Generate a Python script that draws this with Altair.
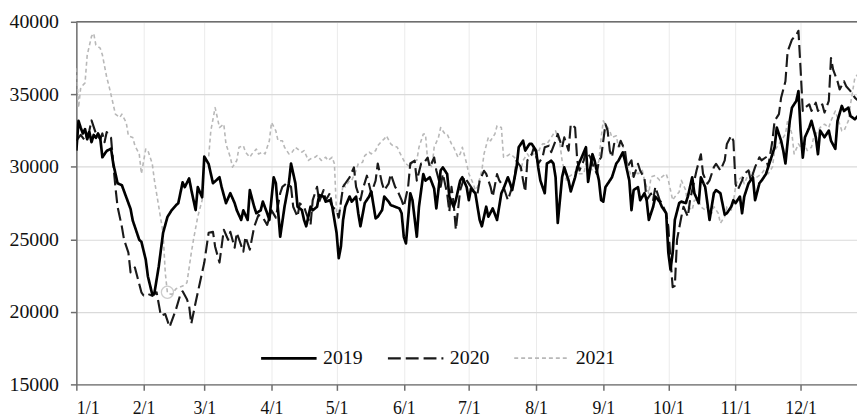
import altair as alt
import pandas as pd

years = ["2019", "2020", "2021"]
y_ticks = [15000, 20000, 25000, 30000, 35000, 40000]

d2019 = [0,1,2,3,4,5,6,7,8,9,10,11,12,14,16,17,19,21,23,25,26,27,29,30,32,33,35,36,38,40,42,44,46,47,49,50,52,53,55,56,58,59,61,63,64,66,67,69,71,73,74,76,77,79,80,82,83,85,86,88,89,91,92,94,96,98,99,101,102,104,105,106,108,109,111,112,114,115,117,118,120,121,122,123,124,126,127,129,130,131,133,135,136,138,139,141,142,144,145,147,149,150,151,152,154,155,157,158,160,161,163,165,166,168,169,171,172,174,175,177,178,180,181,182,184,185,186,187,189,190,192,194,196,197,199,200,201,203,204,206,207,209,210,212,213,214,216,217,219,220,221,222,224,225,227,228,230,231,233,235,236,238,239,241,242,243,244,246,247,249,250,252,253,255,256,257,259,260,262,263,264,266,267,269,270,272,273,274,275,276,278,279,281,282,284,285,287,288,290,291,292,294,295,297,299,300,302,303,304,306,307,308,310,312,313,315,316,318,319,320,322,323,325,326,327,329,330,332,333,334,335,336,338,339,341,342,343,345,347,348,350,351,353,354,356,357,359,361,363,364]
v2019 = [31120,33170,32700,32300,32600,31900,32400,31700,32200,32000,32300,32000,30660,31100,31260,30230,28870,28730,27910,27100,26300,25860,24970,24830,23600,22440,21210,21300,23130,25450,26540,27020,27360,27490,28930,28600,29200,28420,27020,28600,27900,30700,30200,28870,29000,29280,28600,27500,28180,27500,27000,26340,27000,26340,28390,27250,26800,27000,27600,26800,26340,29280,28870,25180,27250,28870,30230,28870,27250,27020,26340,25900,27250,27000,27250,28050,27950,27600,27700,27250,25450,23700,24500,26340,27250,27950,27600,27950,26800,25900,27500,27950,28300,26450,26560,27020,27950,27600,27360,27250,27130,26800,25180,24720,28180,27700,25180,27250,29500,29050,29280,28500,27130,29750,29960,29500,27950,27250,27700,29050,29280,28600,27700,28500,28180,27250,26340,25900,27250,26560,27130,26340,28180,28500,29280,28870,28400,29960,31350,31800,31120,31580,31580,31120,29960,29050,28180,30230,30420,30230,29280,26130,29280,29960,29050,28300,29280,29960,30640,31350,28960,30870,30420,29050,27700,27600,28600,29050,29280,30230,30420,31000,30420,29050,27020,28400,28600,27700,28180,27700,26340,27250,27950,27600,27250,26800,24080,22920,24080,26340,27500,27600,27500,27950,29280,28180,27500,29280,28600,27500,26340,28180,28400,28180,26700,26800,27250,27700,27500,27950,26800,27950,28870,29280,27700,28870,29050,29500,29960,30420,31350,32710,31800,31120,30230,33170,34080,34540,35220,32500,30640,32040,32710,33170,32040,30870,32500,32040,32500,31800,31240,33170,34200,33850,34080,33500,33280,33600,33300,33100]

d2020 = [0,2,4,6,7,9,11,12,13,14,15,16,17,18,19,21,22,24,25,27,28,30,31,33,35,36,37,39,41,43,46,48,49,51,52,53,55,57,59,61,63,64,66,68,70,71,73,74,77,78,80,82,84,86,88,90,92,94,95,97,99,100,102,103,105,106,108,109,111,112,114,115,117,118,120,121,123,124,126,128,129,131,132,134,136,138,139,141,142,144,145,147,148,150,151,153,154,156,157,159,160,162,163,165,166,168,169,171,172,173,174,175,177,179,180,182,183,185,186,188,189,191,192,194,195,197,199,200,202,203,205,206,207,208,210,211,213,215,216,218,219,221,222,224,225,227,228,230,231,232,234,235,237,238,240,241,242,244,245,246,247,248,250,251,253,254,256,257,259,260,262,263,265,266,267,269,270,272,273,274,275,276,277,279,280,282,283,285,286,288,289,291,292,294,295,297,299,300,302,303,304,305,307,308,310,311,313,315,316,318,319,321,322,324,325,327,328,330,332,333,334,335,336,338,339,341,342,344,345,347,348,349,351,352,354,355,357,359,361,363,364]
v2020 = [31800,32200,31800,32500,33200,32300,31900,32300,31700,32400,32100,32000,30230,28620,27250,25860,24970,24080,22720,23060,22490,21350,21130,21240,21100,21210,21350,19730,19850,18960,20200,21210,21420,20870,20420,19180,20650,22030,23400,25450,25520,24490,23400,25660,24970,25520,24420,25450,24150,25180,24290,25860,26680,26500,26000,27000,26500,28180,28620,28870,28620,27250,26560,27480,27250,26800,26000,27700,28620,27600,28400,27700,28200,27250,27000,26500,28620,28850,29280,29960,28620,27700,28400,29390,28160,29050,30230,28840,28390,28840,29500,28620,28390,27700,27250,28620,30230,30420,29050,30230,30210,30640,29980,30640,29750,28620,29520,28160,26910,28620,27480,25660,28390,29300,29070,28620,28390,28160,29050,29730,29520,28620,27930,29500,29070,28620,27700,28160,29070,30420,29980,29070,28280,30440,30870,31350,30210,30660,31350,31460,31010,31800,32270,31350,32030,31120,32940,32710,30420,29750,30440,31120,30660,30210,29520,30440,30660,32940,32500,31120,30660,31580,31350,31800,31120,29980,30440,29300,30210,29750,29180,27700,28160,27700,28620,27700,27480,26800,25860,23600,21700,21800,24970,26560,27250,26560,27700,29070,29750,30870,29520,28840,29070,29980,30210,29750,30440,31580,32150,31800,28800,28400,29070,29520,29750,29070,29980,30660,30440,30660,29980,31800,33170,33630,34770,35900,37950,38770,39100,39380,36700,33850,34080,34310,33850,34420,33850,34310,33740,34540,37500,36700,35900,35340,35900,35560,35220,34770,34500,34300,34200]

d2021 = [0,1,2,4,5,7,8,9,11,12,14,15,17,18,20,21,23,24,26,27,29,30,32,33,35,36,38,40,41,42,44,46,49,51,53,54,56,58,59,61,62,64,65,66,68,69,71,72,74,75,77,78,80,81,83,84,86,87,89,90,92,93,95,96,98,99,101,102,104,105,107,108,110,111,113,115,116,118,119,120,121,123,124,126,127,129,130,132,133,135,136,138,139,141,142,143,145,146,148,149,151,152,154,155,157,158,160,161,162,164,165,167,168,170,171,173,174,176,177,178,180,181,183,184,185,187,188,190,191,193,194,196,197,199,200,202,203,205,206,208,209,211,212,214,215,217,218,220,221,223,224,226,227,229,231,232,234,235,237,238,240,241,242,243,244,246,247,249,250,252,253,255,256,258,259,261,262,264,265,267,269,270,272,273,275,276,278,279,281,282,284,285,287,288,290,291,293,294,296,297,299,300,302,303,304,305,307,308,310,311,313,314,316,317,319,321,322,324,325,327,328,330,331,333,334,336,337,339,340,342,343,345,347,348,350,351,353,354,356,357,359,361,363,364]
v2021 = [36800,34080,35450,35790,37700,39000,39200,38400,38180,37720,36170,35600,34310,33630,33400,33630,33060,32140,32030,31460,30890,29520,31230,31120,30210,29070,27250,25430,22700,21300,21200,21600,21780,22010,24060,24970,26570,27700,30500,30660,32480,34080,33400,32710,32940,31570,30660,29980,30440,31350,31460,31010,30660,30890,31230,30890,31010,30890,31800,33060,32480,31800,31800,31350,30890,30890,31350,31230,31010,31120,30440,30550,30660,30780,30440,30660,30440,30660,30210,26800,26340,28840,28620,29070,29070,29750,30210,30320,30780,31010,30890,31120,31460,31800,31920,32140,31580,31460,31350,31010,30440,30210,29980,30440,30440,31350,32260,32260,30440,29980,31350,32030,32710,32260,32260,31580,31350,30660,30890,31350,30210,29520,28840,28390,28620,29750,30890,32030,31800,32260,32830,32710,30660,30780,30890,30660,30440,29750,30440,30890,30660,30890,30660,31350,31580,31580,31800,32260,32480,31580,30440,29070,29300,29520,29750,29520,29520,30210,29980,29750,29980,30440,32000,33170,32940,32480,32030,32140,31350,31580,30440,29750,29300,29640,29520,29750,29070,28160,29300,29410,29070,29300,29520,29070,27700,27930,28270,29070,28390,27250,27020,27700,27700,27250,27020,27250,26800,27250,26800,26110,26570,27250,27020,27590,28620,29070,29300,28840,29520,29750,29300,29300,29520,29750,29520,29980,31120,31580,31800,32260,33170,32260,30890,31580,31350,31580,31120,31350,32030,32480,32710,32940,32710,33170,33850,33400,32480,32480,33170,34310,36130,36500,36600,36400]

mark_day = [42]
mark_val = [21350]

base_date = pd.Timestamp("2019-01-01")


def to_dates(days):
    return [(base_date + pd.Timedelta(days=d)).strftime("%Y-%m-%dT00:00:00") for d in days]


frames = []
for yr, dd, vv in [("2019", d2019, v2019), ("2020", d2020, v2020), ("2021", d2021, v2021)]:
    frames.append(pd.DataFrame({"date": to_dates(dd), "value": vv, "year": yr}))
df = pd.concat(frames, ignore_index=True)

mark_df = pd.DataFrame({"date": to_dates(mark_day), "value": mark_val})

FONT = "Liberation Serif"
W, H = 788, 366

x_scale = alt.Scale(
    domain=[alt.DateTime(year=2019, month=1, date=1), alt.DateTime(year=2019, month=12, date=27)],
    nice=False,
)
y_scale = alt.Scale(domain=[15000, 40000], nice=False)

x_enc = alt.X(
    "date:T",
    scale=x_scale,
    axis=alt.Axis(
        values=[alt.DateTime(year=2019, month=m, date=1) for m in range(1, 13)],
        format="%-m/%-d",
        title=None,
        grid=True,
        gridColor="#ebebeb",
        gridWidth=1,
        domainColor="#6e6e6e",
        domainWidth=1.5,
        tickColor="#6e6e6e",
        tickWidth=1.5,
        tickSize=6,
        labelPadding=9,
        labelFont=FONT,
        labelFontSize=18,
        labelColor="#111",
    ),
)
y_enc = alt.Y(
    "value:Q",
    scale=y_scale,
    axis=alt.Axis(
        values=y_ticks,
        format="d",
        title=None,
        grid=True,
        gridColor="#dadada",
        gridWidth=1.2,
        domainColor="#6e6e6e",
        domainWidth=1.5,
        tickColor="#6e6e6e",
        tickWidth=1.5,
        tickSize=6,
        labelPadding=12,
        labelFont=FONT,
        labelFontSize=20,
        labelColor="#111",
    ),
)

color_enc = alt.Color(
    "year:N",
    scale=alt.Scale(domain=years, range=["#000000", "#1a1a1a", "#b8b8b8"]),
    legend=alt.Legend(
        title=None,
        orient="none",
        legendX=185,
        legendY=310,
        direction="horizontal",
        symbolType="stroke",
        symbolSize=3136,
        labelFont=FONT,
        labelFontSize=20,
        labelColor="#111",
        labelOffset=5,
        columnPadding=21,
        padding=0,
    ),
)
dash_enc = alt.StrokeDash(
    "year:N",
    scale=alt.Scale(domain=years, range=[[1, 0], [13, 5], [4, 3]]),
    legend=alt.Legend(title=None),
)
width_enc = alt.StrokeWidth(
    "year:N",
    scale=alt.Scale(domain=years, range=[2.7, 1.6, 1.3]),
    legend=alt.Legend(title=None),
)


def series_layer(yr):
    return (
        alt.Chart(df)
        .transform_filter(alt.datum.year == yr)
        .mark_line(clip=True, strokeJoin="round")
        .encode(x=x_enc, y=y_enc, color=color_enc, strokeDash=dash_enc, strokeWidth=width_enc)
    )


circle = (
    alt.Chart(mark_df)
    .mark_point(shape="circle", filled=False, stroke="#b8b8b8", strokeWidth=1.3, size=150, clip=True)
    .encode(x=alt.X("date:T", scale=x_scale), y=alt.Y("value:Q", scale=y_scale))
)

top_frame = (
    alt.Chart(pd.DataFrame({"a": [0]}))
    .mark_rule(color="#6e6e6e", strokeWidth=1.5)
    .encode(y=alt.value(0), x=alt.value(0), x2=alt.value(W))
)

chart = (
    alt.layer(series_layer("2021"), series_layer("2020"), series_layer("2019"), circle, top_frame)
    .properties(
        width=W,
        height=H,
        autosize=alt.AutoSizeParams(type="none"),
        padding={"left": 69, "top": 12, "right": 0, "bottom": 31},
        background="white",
    )
    .configure_view(stroke=None)
)

chart.save("out.html", embed_options={"renderer": "svg", "actions": False})
